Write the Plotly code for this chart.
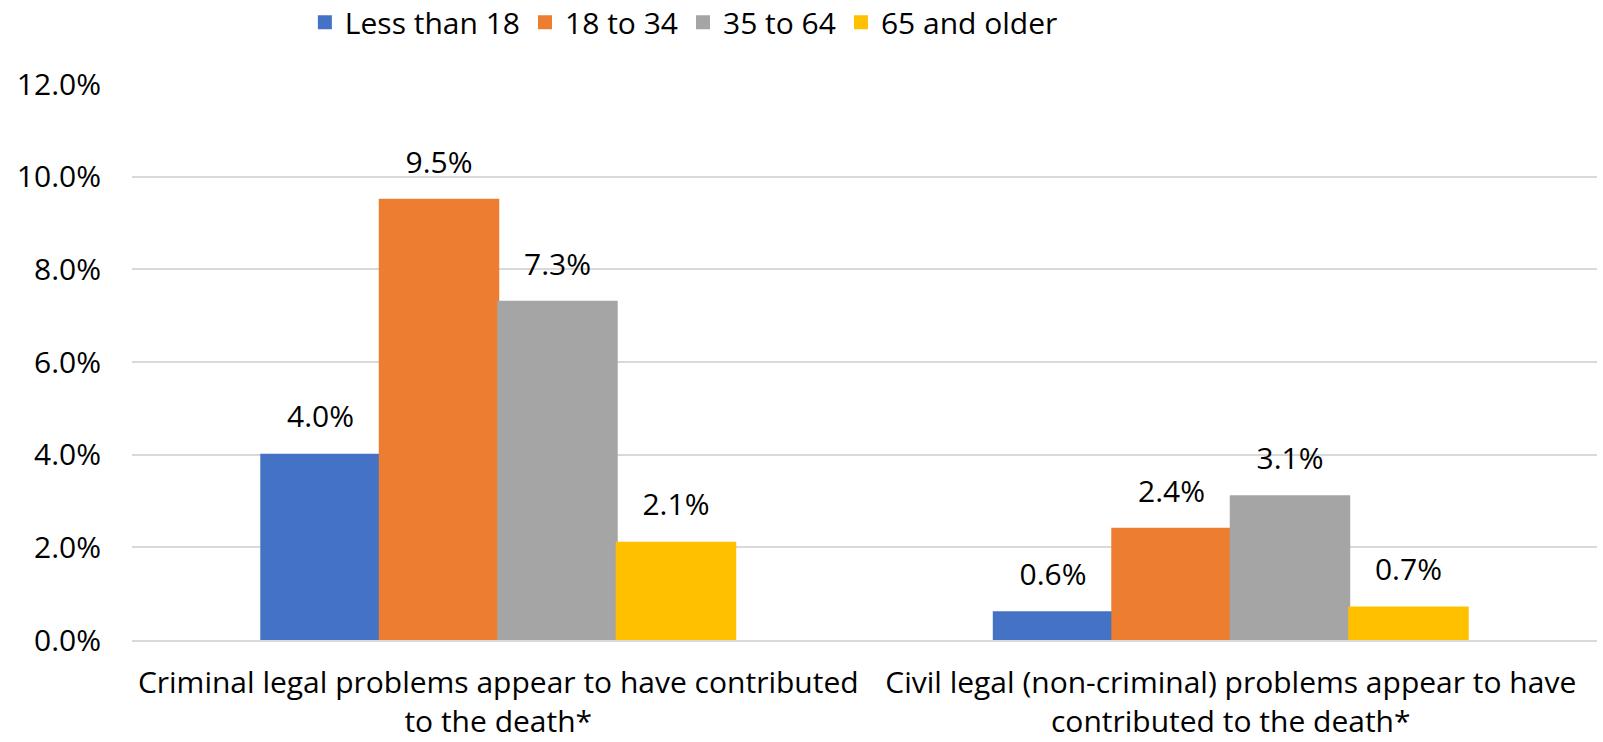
import plotly.graph_objects as go

categories = [
    "Criminal legal problems appear to have contributed<br>to the death*",
    "Civil legal (non-criminal) problems appear to have<br>contributed to the death*",
]
series_names = ["Less than 18", "18 to 34", "35 to 64", "65 and older"]
less_than_18 = [0.040, 0.006]
age_18_to_34 = [0.095, 0.024]
age_35_to_64 = [0.073, 0.031]
age_65_older = [0.021, 0.007]
colors = ["#4472C4", "#ED7D31", "#A5A5A5", "#FFC000"]
ytick_vals = [0, 0.02, 0.04, 0.06, 0.08, 0.10, 0.12]

FONT = "Open Sans"
fig = go.Figure()
all_series = [less_than_18, age_18_to_34, age_35_to_64, age_65_older]
for i, (name, vals, col) in enumerate(zip(series_names, all_series, colors)):
    fig.add_trace(go.Bar(
        name=name, x=categories, y=vals,
        marker=dict(color=col, line=dict(width=2, color=col)),
        offsetgroup=str(i),
    ))
for i, (name, vals, col) in enumerate(zip(series_names, all_series, colors)):
    fig.add_trace(go.Scatter(
        x=categories, y=vals, mode="text+markers",
        marker=dict(size=30, opacity=0),
        text=[f"{v*100:.1f}%" for v in vals],
        textposition="top center", cliponaxis=False,
        textfont=dict(family=FONT, size=30, color="#000000"),
        showlegend=False, hoverinfo="skip", offsetgroup=str(i),
    ))

fig.update_layout(
    width=1603, height=742,
    margin=dict(l=132, r=6, t=84, b=102, autoexpand=False),
    barmode="group", bargap=0.353, bargroupgap=0,
    scattermode="group", scattergap=0.353,
    plot_bgcolor="white", paper_bgcolor="white",
    font=dict(family=FONT, size=30, color="#000000"),
    legend=dict(orientation="h", x=0.118, xanchor="left", y=1.111, yanchor="middle",
                font=dict(size=30), itemwidth=30, bgcolor="rgba(0,0,0,0)"),
)
fig.update_yaxes(range=[0, 0.12], tickvals=ytick_vals, tickformat=".1%",
                 showgrid=True, gridcolor="#D9D9D9", gridwidth=1.5,
                 zeroline=False, showline=False, ticks="", ticklabelstandoff=30,
                 tickfont=dict(size=30, color="#000000"))
fig.update_xaxes(showline=True, linecolor="#D9D9D9", linewidth=1.5, ticks="",
                 ticklabelstandoff=15, tickfont=dict(size=30, color="#000000"))

fig.write_html("out.html")
